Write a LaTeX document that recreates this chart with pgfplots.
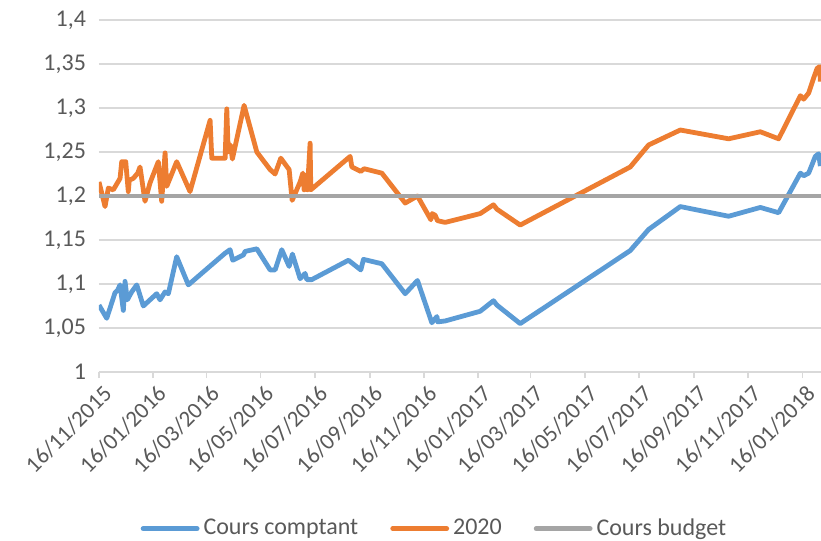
\documentclass[border=0pt]{standalone}
\usepackage{pgfplots}
\pgfplotsset{compat=1.18}
\usepackage{fontspec}
\setmainfont{Carlito}
\definecolor{cblue}{HTML}{5B9BD5}
\definecolor{corange}{HTML}{ED7D31}
\definecolor{cgray}{HTML}{A5A5A5}
\definecolor{gridc}{HTML}{D9D9D9}
\definecolor{txt}{HTML}{595959}
\begin{document}
\begin{tikzpicture}
\useasboundingbox (-49.5pt,-84.5pt) rectangle (361pt,186pt);
\begin{axis}[
  at={(0,0)}, anchor=south west, scale only axis,
  width=361pt, height=176pt,
  xmin=0, xmax=813, ymin=1, ymax=1.4,
  axis x line*=bottom, axis y line*=left,
  x axis line style={gridc, line width=0.75pt, -},
  y axis line style={draw=none},
  ytick={1,1.05,1.1,1.15,1.2,1.25,1.3,1.35,1.4},
  yticklabels={1,{1,05},{1,1},{1,15},{1,2},{1,25},{1,3},{1,35},{1,4}},
  xtick={0,61,121,182,243,305,366,427,486,547,608,670,731,792},
  xticklabels={16/11/2015,16/01/2016,16/03/2016,16/05/2016,16/07/2016,16/09/2016,16/11/2016,16/01/2017,16/03/2017,16/05/2017,16/07/2017,16/09/2017,16/11/2017,16/01/2018},
  tick align=outside, major tick length=3pt,
  xtick style={gridc, line width=0.75pt},
  ytick style={draw=none},
  ymajorgrids, grid style={gridc, line width=0.75pt},
  yticklabel style={font=\fontsize{12}{14}\selectfont, text=txt, anchor=east, xshift=0pt},
  xticklabel style={font=\fontsize{11.5}{14}\selectfont, text=txt, rotate=45, anchor=north east, inner sep=1pt, yshift=-2pt},
  legend style={at={(0.466,-0.445)}, anchor=center, draw=none, fill=none,
    font=\fontsize{12}{14}\selectfont, text=txt,
    /tikz/every even column/.append style={column sep=14pt}},
  legend columns=-1,
  legend image code/.code={\draw[#1, line cap=round] (0pt,0pt) -- (27pt,0pt);},
  every axis plot/.append style={line width=2.4pt, line join=round},
]
\addplot[cblue] coordinates {
(0,1.076) (8.7,1.061) (18.0,1.090) (21,1.093) (23.7,1.099) (27.4,1.070) (29.3,1.103) (31.9,1.082) (36.8,1.091) (42.5,1.099)
(49.9,1.075) (65.0,1.089) (68.7,1.082) (74.4,1.091) (78.1,1.089) (87.5,1.131) (100.6,1.099) (127.0,1.122)
(142,1.135) (147.6,1.139) (150.6,1.127) (162.6,1.133) (164.5,1.137) (177.7,1.140) (192.7,1.116) (198.3,1.116)
(205.8,1.139) (214.1,1.120) (217.8,1.134) (226.5,1.106) (232.1,1.112) (234.0,1.105) (239.6,1.105)
(280.9,1.127) (294.8,1.116) (297.8,1.128) (318.5,1.123) (344.8,1.089) (358.6,1.104) (374.8,1.056)
(380.5,1.063) (381.5,1.057) (389.8,1.058) (429.2,1.069) (444.2,1.081) (448.1,1.076) (474.3,1.055)
(598.2,1.138) (618.9,1.162) (654.6,1.188) (709.0,1.177) (744.7,1.187) (765.3,1.181) (789.8,1.226)
(793.5,1.223) (799.1,1.226) (806.6,1.245) (810.3,1.248) (812.3,1.234)
};
\addlegendentry{Cours comptant}
\addplot[corange] coordinates {
(0,1.216) (6.8,1.188) (10.5,1.209) (16.1,1.207) (23.7,1.220) (25.6,1.239) (30.1,1.239) (33.0,1.205)
(34.1,1.218) (38.6,1.220) (43.6,1.226) (46.2,1.233) (51.8,1.194) (57.5,1.215) (66.8,1.239) (70.6,1.194)
(74.4,1.249) (76.3,1.211) (87.5,1.239) (102.5,1.205) (125.1,1.286) (127.0,1.243) (142.0,1.243)
(143.9,1.299) (145.5,1.250) (148,1.258) (150.2,1.242) (163.4,1.303) (177.7,1.250) (192.7,1.230)
(198.3,1.225) (204.7,1.243) (214.1,1.230) (217.5,1.195) (226.5,1.216) (229.5,1.226) (231.0,1.207)
(234.0,1.224) (234.7,1.207) (237.7,1.260) (238.5,1.207) (282.8,1.245) (284.7,1.233) (294.8,1.228)
(298.6,1.231) (318.5,1.226) (344.8,1.192) (358.6,1.200) (373.7,1.173) (375.2,1.180) (378.6,1.178)
(381.1,1.172) (389.8,1.170) (429.2,1.180) (444.2,1.190) (448.1,1.185) (474.3,1.167) (598.2,1.233)
(618.9,1.258) (654.6,1.275) (709.0,1.265) (744.7,1.273) (765.3,1.265) (789.8,1.314) (793.5,1.310)
(799.1,1.317) (804.7,1.334) (808.6,1.345) (811.5,1.347) (812.3,1.330)
};
\addlegendentry{2020}
\addplot[cgray] coordinates {(0,1.2) (813,1.2)};
\addlegendentry{Cours budget}
\end{axis}
\end{tikzpicture}
\end{document}
